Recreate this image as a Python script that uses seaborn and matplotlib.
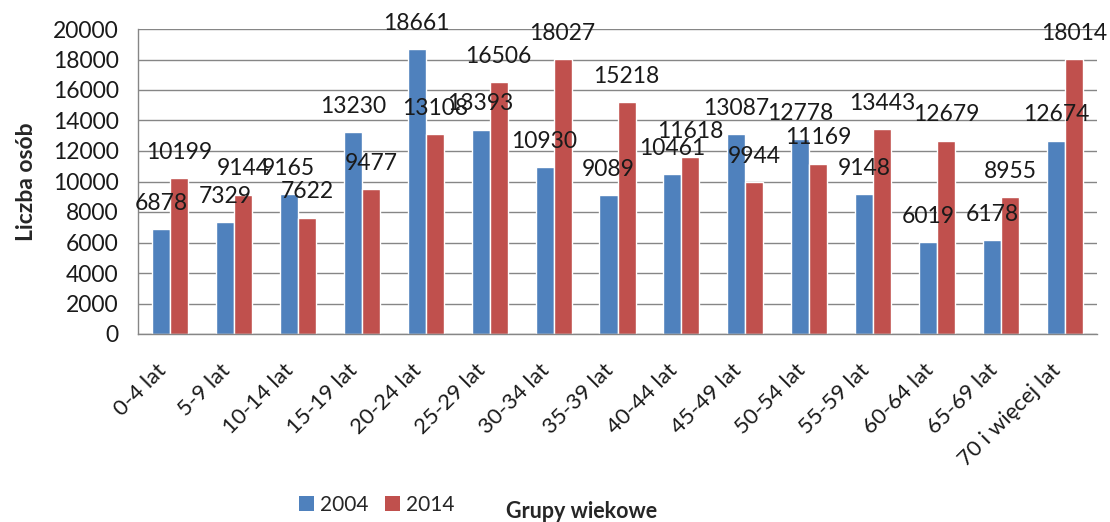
import numpy as np
import pandas as pd
import matplotlib
matplotlib.use('Agg')
import matplotlib.pyplot as plt
import seaborn as sns
from matplotlib.patches import Patch

grupy = ['0-4 lat', '5-9 lat', '10-14 lat', '15-19 lat', '20-24 lat', '25-29 lat',
         '30-34 lat', '35-39 lat', '40-44 lat', '45-49 lat', '50-54 lat', '55-59 lat',
         '60-64 lat', '65-69 lat', '70 i więcej lat']
lata = ['2004', '2014']
osoby_2004 = [6878, 7329, 9165, 13230, 18661, 13393, 10930, 9089, 10461, 13087, 12778, 9148, 6019, 6178, 12674]
osoby_2014 = [10199, 9144, 7622, 9477, 13108, 16506, 18027, 15218, 11618, 9944, 11169, 13443, 12679, 8955, 18014]
kolory = ['#4F81BD', '#C0504D']

df = pd.DataFrame({
    'grupa': grupy * 2,
    'rok': [lata[0]] * len(grupy) + [lata[1]] * len(grupy),
    'liczba': osoby_2004 + osoby_2014,
})

sns.set_style('white')
plt.rcParams['font.family'] = ['Lato', 'DejaVu Sans']

fig = plt.figure(figsize=(11.1, 5.22), dpi=100)
ax = fig.add_axes([138 / 1110, 1 - 334 / 522, (1097 - 138) / 1110, (334 - 29) / 522])

sns.barplot(data=df, x='grupa', y='liczba', hue='rok', palette=kolory, width=0.565,
            saturation=1, legend=False, ax=ax)

# etykiety z wartosciami nad slupkami
for c in ax.containers:
    ax.bar_label(c, fmt='%d', padding=11, fontsize=16.5, color='#1a1a1a')

ax.set_xlim(-0.5, len(grupy) - 0.5)
ax.set_ylim(0, 20000)
ax.set_yticks(np.arange(0, 20001, 2000))
ax.yaxis.grid(True, color='#868686', lw=1)
ax.set_axisbelow(True)

for s in ['top', 'right']:
    ax.spines[s].set_visible(False)
for s in ['left', 'bottom']:
    ax.spines[s].set_color('#868686')
    ax.spines[s].set_linewidth(1)

ax.tick_params(axis='y', length=5.8, width=1, color='#868686', labelsize=16.5, pad=8, labelcolor='#1a1a1a')
ax.tick_params(axis='x', length=0, labelsize=16, pad=19, labelcolor='#1a1a1a')
plt.setp(ax.get_xticklabels(), rotation=45, ha='right')

ax.set_xlabel('')
ax.set_ylabel('Liczba osób', fontsize=16.5, fontweight='bold')
ax.yaxis.set_label_coords(-0.105, 0.5)

fig.text(582 / 1110, 1 - 512 / 522, 'Grupy wiekowe', ha='center', va='center',
         fontsize=15.5, fontweight='bold')

uchwyty = [Patch(facecolor=k, edgecolor='none') for k in kolory]
fig.legend(uchwyty, lata, loc='center', bbox_to_anchor=(377 / 1110, 1 - 505 / 522), ncol=2,
           frameon=False, fontsize=15, handlelength=0.7, handleheight=0.7,
           handletextpad=0.3, columnspacing=0.8)

plt.savefig('out.png', dpi=100)
